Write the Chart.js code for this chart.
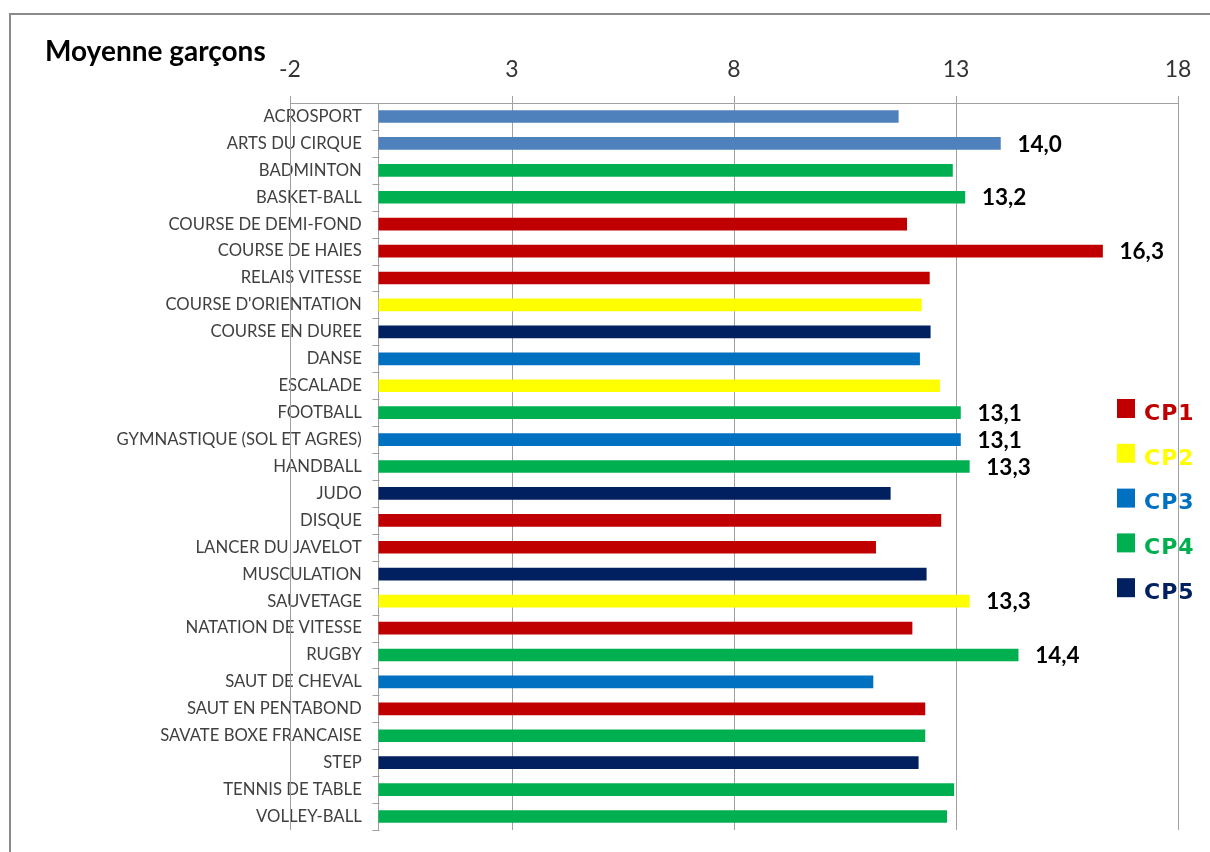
<!DOCTYPE html>
<html lang="fr">
<head>
  <meta charset="UTF-8">
  <title>Moyenne garçons</title>
  <script src="https://cdn.jsdelivr.net/npm/chart.js"></script>
  <style>
    body { margin: 0; background: #fff; }
    #wrap { width: 1210px; height: 852px; }
  </style>
</head>
<body>
  <div id="wrap">
    <canvas id="moyChart"></canvas>
  </div>

  <script>
    const activites = [
      'ACROSPORT', 'ARTS DU CIRQUE', 'BADMINTON', 'BASKET-BALL', 'COURSE DE DEMI-FOND',
      'COURSE DE HAIES', 'RELAIS VITESSE', "COURSE D'ORIENTATION", 'COURSE EN DUREE', 'DANSE',
      'ESCALADE', 'FOOTBALL', 'GYMNASTIQUE (SOL ET AGRES)', 'HANDBALL', 'JUDO',
      'DISQUE', 'LANCER DU JAVELOT', 'MUSCULATION', 'SAUVETAGE', 'NATATION DE VITESSE',
      'RUGBY', 'SAUT DE CHEVAL', 'SAUT EN PENTABOND', 'SAVATE BOXE FRANCAISE', 'STEP',
      'TENNIS DE TABLE', 'VOLLEY-BALL'
    ];
    const moyennes = [
      11.70, 14.0, 12.92, 13.2, 11.89,
      16.3, 12.40, 12.22, 12.42, 12.18,
      12.63, 13.1, 13.1, 13.3, 11.52,
      12.66, 11.19, 12.33, 13.3, 12.01,
      14.4, 11.13, 12.30, 12.30, 12.15,
      12.95, 12.79
    ];
    // competence propre (0 = sans CP)
    const cp = [
      0, 0, 4, 4, 1,
      1, 1, 2, 5, 3,
      2, 4, 3, 4, 5,
      1, 1, 5, 2, 1,
      4, 3, 1, 4, 5,
      4, 4
    ];
    const cpNoms = ['CP1', 'CP2', 'CP3', 'CP4', 'CP5'];
    const cpCouleurs = ['#4F81BD', '#C00000', '#FFFF00', '#0070C0', '#00B050', '#002060'];
    const etiquetees = ['ARTS DU CIRQUE', 'BASKET-BALL', 'COURSE DE HAIES', 'FOOTBALL',
      'GYMNASTIQUE (SOL ET AGRES)', 'HANDBALL', 'SAUVETAGE', 'RUGBY'];
    const xTicks = [-2, 3, 8, 13, 18];

    const gris = '#a0a0a0';
    const police = 'Lato, "Open Sans", sans-serif';

    // cadre, titre et legende (dessines avant les axes)
    const decor = {
      id: 'decor',
      beforeDraw(chart) {
        const c = chart.ctx;
        // axe y place a x=0 : decaler les libelles a gauche des graduations
        const items = chart.scales.y.getLabelItems();
        if (!items._decale) {
          items.forEach(it => { it.options.translation[0] -= 17; });
          items._decale = true;
        }

        c.save();
        c.strokeStyle = '#8a8a8a';
        c.lineWidth = 2;
        c.strokeRect(10, 14, 1400, 1000);

        c.fillStyle = '#000';
        c.font = 'bold 28px ' + police;
        c.textBaseline = 'middle';
        c.textAlign = 'left';
        c.fillText('Moyenne garçons', 45, 52);

        c.font = 'bold 22px "DejaVu Sans", sans-serif';
        c.letterSpacing = '1px';
        cpNoms.forEach((nom, i) => {
          const y = 399 + i * 44.8;
          c.fillStyle = cpCouleurs[i + 1];
          c.fillRect(1117, y, 18, 19);
          c.fillText(nom, 1144, y + 15);
        });
        c.restore();
      },
      beforeDatasetsDraw(chart) {
        // grille a -2 et graduations de l'axe des categories
        const { ctx: c, chartArea: a, scales: { x, y } } = chart;
        c.save();
        c.strokeStyle = gris;
        c.lineWidth = 1;
        c.beginPath();
        const xg = Math.round(x.getPixelForValue(xTicks[0])) + 0.5;
        c.moveTo(xg, a.top - 7);
        c.lineTo(xg, a.bottom);
        const x0 = Math.round(x.getPixelForValue(0)) + 0.5;
        for (let i = 0; i <= activites.length; i++) {
          const yy = Math.round(y.getPixelForValue(i - 0.5)) + 0.5;
          c.moveTo(x0 - 7, yy);
          c.lineTo(x0, yy);
        }
        c.stroke();
        c.restore();
      },
      afterDatasetsDraw(chart) {
        const c = chart.ctx;
        const meta = chart.getDatasetMeta(0);
        c.save();
        c.fillStyle = '#000';
        c.font = 'bold 22.5px ' + police;
        c.textBaseline = 'middle';
        c.textAlign = 'left';
        activites.forEach((a, i) => {
          if (!etiquetees.includes(a)) return;
          const bar = meta.data[i];
          c.fillText(moyennes[i].toFixed(1).replace('.', ','), bar.x + 17, bar.y + 1);
        });
        c.restore();
      }
    };

    const ctx = document.getElementById('moyChart').getContext('2d');
    new Chart(ctx, {
      type: 'bar',
      data: {
        labels: activites,
        datasets: [{
          data: moyennes,
          backgroundColor: cp.map(k => cpCouleurs[k]),
          barThickness: 12,
          borderWidth: 0
        }]
      },
      options: {
        indexAxis: 'y',
        responsive: true,
        maintainAspectRatio: false,
        animation: false,
        layout: { padding: { left: 290, right: 32, top: 0, bottom: 22 } },
        plugins: {
          legend: { display: false },
          tooltip: { enabled: false }
        },
        scales: {
          x: {
            position: 'top',
            min: -2,
            max: 18,
            afterBuildTicks(scale) {
              scale.ticks = xTicks.map(v => ({ value: v }));
            },
            afterFit(scale) { scale.height = 103; },
            grid: { color: gris, tickLength: 7 },
            border: { color: gris },
            ticks: {
              color: '#333',
              padding: 13,
              font: { family: police, size: 23 }
            }
          },
          y: {
            position: { x: 0 },
            offset: true,
            grid: { offset: true, drawOnChartArea: false, drawTicks: false, color: gris },
            border: { color: gris },
            ticks: {
              color: '#404040',
              autoSkip: false,
              font: { family: police, size: 16.7 }
            }
          }
        }
      },
      plugins: [decor]
    });
  </script>
</body>
</html>
